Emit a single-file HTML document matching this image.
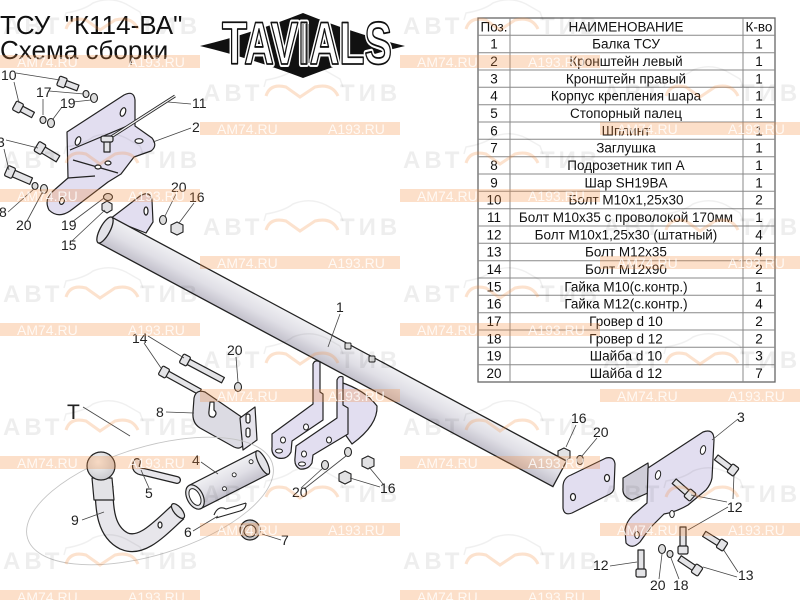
<!DOCTYPE html>
<html><head><meta charset="utf-8"><style>
html,body{margin:0;padding:0;background:#fff;}
svg{display:block;}
.lb{font-family:"Liberation Sans",Arial,sans-serif;font-size:14px;fill:#222;}
.ld{stroke:#444;stroke-width:0.8;fill:none;}
.tt{font-family:"Liberation Sans","Noto Sans CJK SC",sans-serif;font-size:13.5px;fill:#111;text-anchor:middle;}
.o{stroke:#222;stroke-width:1.2;stroke-linejoin:round;}
.lav{fill:#e2def0;}
.gry{fill:#e4e4e7;}
.wg{font-family:"Liberation Sans",sans-serif;font-weight:bold;font-size:24px;letter-spacing:4px;fill:rgba(0,0,0,0.065);}
.wt{font-family:"Liberation Sans",sans-serif;font-size:14px;fill:rgba(255,255,255,0.8);}
.wb{fill:rgba(245,140,60,0.28);}
.wo{fill:none;stroke:rgba(245,140,60,0.25);stroke-width:3;}
.car{fill:none;stroke:rgba(0,0,0,0.06);stroke-width:1.5;}
</style></head><body>
<svg width="800" height="600" viewBox="0 0 800 600" xmlns="http://www.w3.org/2000/svg">
<defs>
<linearGradient id="tg" x1="0" y1="0" x2="0" y2="1">
<stop offset="0" stop-color="#f0f0f3"/><stop offset="0.5" stop-color="#e0dfe6"/><stop offset="1" stop-color="#c2c0cb"/>
</linearGradient>
<radialGradient id="bg" cx="0.4" cy="0.35" r="0.7">
<stop offset="0" stop-color="#f8f8f8"/><stop offset="1" stop-color="#c8c8cc"/>
</radialGradient>
</defs>

<!-- Title -->
<text x="0" y="34" style="font-family:'Liberation Sans',sans-serif;font-size:26px;fill:#111" xml:space="preserve">ТСУ  "К114-ВА"</text>
<text x="0" y="59" style="font-family:'Liberation Sans',sans-serif;font-size:26px;fill:#111">Схема сборки</text>

<!-- Logo -->
<path d="M200,46 Q250,34 303,13 Q355,34 405,46 Q355,58 303,78 Q250,58 200,46 Z" fill="#111"/>
<text x="222" y="64" textLength="170" lengthAdjust="spacingAndGlyphs" style="font-family:'Liberation Sans',sans-serif;font-weight:bold;font-size:60px;fill:#fff;stroke:#fff;stroke-width:6;stroke-linejoin:round">TAVIALS</text>
<text x="222" y="64" textLength="170" lengthAdjust="spacingAndGlyphs" style="font-family:'Liberation Sans',sans-serif;font-weight:bold;font-size:60px;fill:#fff;stroke:#111;stroke-width:1.8;stroke-linejoin:round">TAVIALS</text>
<g stroke="#222" stroke-width="0.8"><line x1="303" y1="24" x2="303" y2="63"/><line x1="306" y1="24" x2="306" y2="63"/><line x1="309" y1="24" x2="309" y2="63"/></g>

<!-- Table -->
<g>
<rect x="478" y="18" width="297" height="364" fill="#fff" stroke="#666" stroke-width="1.3"/>
<g stroke="#888" stroke-width="1">
<line x1="510" y1="18" x2="510" y2="382"/><line x1="743" y1="18" x2="743" y2="382"/>
<line x1="478" y1="35.3" x2="775" y2="35.3"/><line x1="478" y1="52.7" x2="775" y2="52.7"/>
<line x1="478" y1="70" x2="775" y2="70"/><line x1="478" y1="87.3" x2="775" y2="87.3"/>
<line x1="478" y1="104.7" x2="775" y2="104.7"/><line x1="478" y1="122" x2="775" y2="122"/>
<line x1="478" y1="139.3" x2="775" y2="139.3"/><line x1="478" y1="156.7" x2="775" y2="156.7"/>
<line x1="478" y1="174" x2="775" y2="174"/><line x1="478" y1="191.3" x2="775" y2="191.3"/>
<line x1="478" y1="208.7" x2="775" y2="208.7"/><line x1="478" y1="226" x2="775" y2="226"/>
<line x1="478" y1="243.3" x2="775" y2="243.3"/><line x1="478" y1="260.7" x2="775" y2="260.7"/>
<line x1="478" y1="278" x2="775" y2="278"/><line x1="478" y1="295.3" x2="775" y2="295.3"/>
<line x1="478" y1="312.7" x2="775" y2="312.7"/><line x1="478" y1="330" x2="775" y2="330"/>
<line x1="478" y1="347.3" x2="775" y2="347.3"/><line x1="478" y1="364.7" x2="775" y2="364.7"/>
</g>
<text class="tt" x="494" y="31.3">Поз.</text><text class="tt" x="626" y="31.3">НАИМЕНОВАНИЕ</text><text class="tt" x="759" y="31.3">К-во</text>
<text class="tt" x="494" y="48.6">1</text><text class="tt" x="626" y="48.6">Балка ТСУ</text><text class="tt" x="759" y="48.6">1</text>
<text class="tt" x="494" y="66">2</text><text class="tt" x="626" y="66">Кронштейн левый</text><text class="tt" x="759" y="66">1</text>
<text class="tt" x="494" y="83.3">3</text><text class="tt" x="626" y="83.3">Кронштейн правый</text><text class="tt" x="759" y="83.3">1</text>
<text class="tt" x="494" y="100.6">4</text><text class="tt" x="626" y="100.6">Корпус крепления шара</text><text class="tt" x="759" y="100.6">1</text>
<text class="tt" x="494" y="118">5</text><text class="tt" x="626" y="118">Стопорный палец</text><text class="tt" x="759" y="118">1</text>
<text class="tt" x="494" y="135.3">6</text><text class="tt" x="626" y="135.3">Шплинт</text><text class="tt" x="759" y="135.3">1</text>
<text class="tt" x="494" y="152.6">7</text><text class="tt" x="626" y="152.6">Заглушка</text><text class="tt" x="759" y="152.6">1</text>
<text class="tt" x="494" y="170">8</text><text class="tt" x="626" y="170">Подрозетник тип А</text><text class="tt" x="759" y="170">1</text>
<text class="tt" x="494" y="187.3">9</text><text class="tt" x="626" y="187.3">Шар SH19BA</text><text class="tt" x="759" y="187.3">1</text>
<text class="tt" x="494" y="204.6">10</text><text class="tt" x="626" y="204.6">Болт М10х1,25х30</text><text class="tt" x="759" y="204.6">2</text>
<text class="tt" x="494" y="222">11</text><text class="tt" x="626" y="222">Болт М10х35 с проволокой 170мм</text><text class="tt" x="759" y="222">1</text>
<text class="tt" x="494" y="239.3">12</text><text class="tt" x="626" y="239.3">Болт М10х1,25х30 (штатный)</text><text class="tt" x="759" y="239.3">4</text>
<text class="tt" x="494" y="256.6">13</text><text class="tt" x="626" y="256.6">Болт М12х35</text><text class="tt" x="759" y="256.6">4</text>
<text class="tt" x="494" y="274">14</text><text class="tt" x="626" y="274">Болт М12х90</text><text class="tt" x="759" y="274">2</text>
<text class="tt" x="494" y="291.3">15</text><text class="tt" x="626" y="291.3">Гайка М10(с.контр.)</text><text class="tt" x="759" y="291.3">1</text>
<text class="tt" x="494" y="308.6">16</text><text class="tt" x="626" y="308.6">Гайка М12(с.контр.)</text><text class="tt" x="759" y="308.6">4</text>
<text class="tt" x="494" y="326">17</text><text class="tt" x="626" y="326">Гровер d 10</text><text class="tt" x="759" y="326">2</text>
<text class="tt" x="494" y="343.3">18</text><text class="tt" x="626" y="343.3">Гровер d 12</text><text class="tt" x="759" y="343.3">2</text>
<text class="tt" x="494" y="360.6">19</text><text class="tt" x="626" y="360.6">Шайба d 10</text><text class="tt" x="759" y="360.6">3</text>
<text class="tt" x="494" y="378">20</text><text class="tt" x="626" y="378">Шайба d 12</text><text class="tt" x="759" y="378">7</text>
</g>

<!-- Bracket 2 (left) -->
<path class="o lav" d="M67,132 L124,95 Q134,90 135,100 L135,126 L152,138 Q158,146 151,151 L134,157 L121,174 L108,182 L70,211 Q58,219 49,210 Q44,200 52,192 L68,178 Z"/>
<path class="o" fill="none" d="M70,150 L132,124 M73,160 L118,173 M68,178 L95,176"/>
<ellipse class="o" fill="#fff" cx="78" cy="141" rx="2.5" ry="4.5" transform="rotate(20 78 141)"/>
<ellipse class="o" fill="#fff" cx="123" cy="112" rx="2.5" ry="4.5" transform="rotate(20 123 112)"/>
<ellipse class="o" fill="#fff" cx="139" cy="141" rx="4" ry="2.3"/>
<ellipse class="o" fill="#fff" cx="98" cy="167" rx="3" ry="2"/>
<ellipse class="o" fill="#fff" cx="108" cy="163" rx="3" ry="2"/>
<ellipse class="o" fill="#fff" cx="62" cy="201" rx="2.3" ry="3.5" transform="rotate(20 62 201)"/>
<!-- wire 11 + bolt -->
<line x1="175" y1="96" x2="108" y2="139" stroke="#222" stroke-width="3"/>
<line x1="175" y1="96" x2="108" y2="139" stroke="#f0f0f0" stroke-width="1.3"/>
<rect class="o gry" x="104" y="141" width="6" height="11"/>
<rect class="o gry" x="101" y="136" width="12" height="6" rx="2"/>

<!-- small bolts -->
<g transform="translate(62,82) rotate(20.6)"><rect class="o gry" x="3" y="-3" width="14" height="6"/><rect class="o gry" x="-4" y="-5" width="8" height="10" rx="1.5"/></g>
<g transform="translate(18,107) rotate(28)"><rect class="o gry" x="3" y="-3" width="14" height="6"/><rect class="o gry" x="-4" y="-5" width="8" height="10" rx="1.5"/></g>
<g transform="translate(40,148) rotate(31)"><rect class="o gry" x="3" y="-3.5" width="18" height="7"/><rect class="o gry" x="-4" y="-5.5" width="8" height="11" rx="1.5"/></g>
<g transform="translate(10,172) rotate(23.5)"><rect class="o gry" x="3" y="-3.5" width="20" height="7"/><rect class="o gry" x="-4" y="-5.5" width="8" height="11" rx="1.5"/></g>
<!-- washers -->
<g fill="#ddd" stroke="#222" stroke-width="1.1">
<ellipse cx="86" cy="94" rx="3" ry="3.5"/><ellipse cx="94" cy="98" rx="3.5" ry="4.5"/>
<ellipse cx="43" cy="120" rx="3" ry="3.5"/><ellipse cx="51" cy="123" rx="3.5" ry="4.5"/>
<ellipse cx="35" cy="186" rx="3" ry="3.5"/><ellipse cx="44" cy="189" rx="3.5" ry="4.5"/>
<ellipse cx="108" cy="197" rx="4.5" ry="3.5"/>
<ellipse cx="163" cy="220" rx="3.5" ry="4.5"/>
<ellipse cx="238" cy="387" rx="3.5" ry="4.5"/>
<ellipse cx="325" cy="465" rx="3.5" ry="4.5"/><ellipse cx="348" cy="452" rx="3.5" ry="4.5"/>
<ellipse cx="580" cy="460" rx="3.5" ry="4.5"/>
<ellipse cx="662" cy="549" rx="3.5" ry="4.5"/><ellipse cx="670" cy="554" rx="3" ry="3.5"/>
</g>
<!-- nuts -->
<g fill="#e2e2e4" stroke="#222" stroke-width="1.1">
<polygon points="107,201 112,204 112,210 107,213 102,210 102,204"/>
<polygon points="177,222 183,225 183,232 177,235 171,232 171,225"/>
<polygon points="345,471 351,474 351,481 345,484 339,481 339,474"/>
<polygon points="368,456 374,459 374,466 368,469 362,466 362,459"/>
<polygon points="564,448 570,451 570,458 564,461 558,458 558,451"/>
</g>

<!-- Left tube plate -->
<path class="o lav" d="M110,219 L140,196 Q150,190 152,200 L153,222 L146,233 Z"/>
<ellipse class="o" fill="#fff" cx="146" cy="211" rx="2" ry="4"/>

<!-- Main tube -->
<g transform="translate(105,230) rotate(28.2)">
<rect x="0" y="-14.5" width="516" height="29" fill="url(#tg)" stroke="#222" stroke-width="1.3"/>
<ellipse cx="0" cy="0" rx="5" ry="14.5" fill="#e4e3e8" stroke="#222" stroke-width="1.3"/>
</g>
<!-- bolts on tube top -->
<g fill="#ddd" stroke="#222" stroke-width="1">
<rect x="345" y="343" width="6" height="6" rx="1"/><rect x="369" y="356" width="6" height="6" rx="1"/>
</g>

<!-- Middle brackets (part of 1) -->
<path class="o lav" d="M340,382 Q365,390 377,406 Q378,425 352,444 L342,430 Z"/>
<path class="o lav" d="M313,364 Q315,359 320,362 L320,392 L323,394 L323,420 L292,441 L291,452 Q287,460 278,458 Q271,455 272,447 L272,434 L313,404 Z"/>
<path class="o lav" d="M337,380 Q339,375 343,377 L343,405 L348,408 L348,434 L313,455 L312,463 Q308,470 300,469 Q294,466 295,458 L296,446 L337,418 Z"/>
<g fill="#fff" stroke="#222" stroke-width="1">
<ellipse cx="283" cy="440" rx="2.5" ry="3"/><ellipse cx="279" cy="451" rx="3.5" ry="2"/><ellipse cx="306" cy="427" rx="2.5" ry="3"/>
<ellipse cx="304" cy="454" rx="2.5" ry="3"/><ellipse cx="302" cy="464" rx="3.5" ry="2"/><ellipse cx="329" cy="440" rx="2.5" ry="3"/>
</g>

<!-- Right end plate of tube -->
<path class="o lav" d="M563,487 Q563,478 571,475 L606,458 Q614,456 615,464 L614,489 Q613,493 608,495 L572,513 Q564,516 563,508 Z"/>
<ellipse class="o" fill="#fff" cx="607" cy="478" rx="2.5" ry="3.5"/>
<ellipse class="o" fill="#fff" cx="573" cy="497" rx="2.5" ry="3.5"/>

<!-- Bracket 3 (right) -->
<path class="o" fill="#cfcdd8" d="M623,478 L648,463 L650,492 L632,500 Q622,497 623,488 Z"/>
<path class="o lav" d="M648,468 L703,432 Q714,428 714,440 L712,478 Q711,484 706,490 L688,505 Q676,512 664,514 L650,528 L640,542 Q632,550 626,543 L625,530 Q626,522 633,515 L647,503 Z"/>
<g fill="#fff" stroke="#222" stroke-width="1">
<ellipse cx="703" cy="450" rx="2.5" ry="4.5" transform="rotate(15 703 450)"/>
<ellipse cx="658" cy="475" rx="2.5" ry="4.5" transform="rotate(15 658 475)"/>
<ellipse cx="672" cy="514" rx="2.3" ry="3.5"/>
<ellipse cx="637" cy="535" rx="2.3" ry="3.5"/>
</g>
<g transform="translate(690,495) rotate(221)"><rect class="o gry" x="3" y="-3" width="18" height="6"/><rect class="o gry" x="-4" y="-5" width="8" height="10" rx="1.5"/></g>
<g transform="translate(733,470) rotate(217)"><rect class="o gry" x="3" y="-3" width="18" height="6"/><rect class="o gry" x="-4" y="-5" width="8" height="10" rx="1.5"/></g>
<g transform="translate(683,550) rotate(-90)"><rect class="o gry" x="3" y="-3" width="20" height="6"/><rect class="o gry" x="-4" y="-5" width="8" height="10" rx="1.5"/></g>
<g transform="translate(641,573) rotate(-90)"><rect class="o gry" x="3" y="-3" width="20" height="6"/><rect class="o gry" x="-4" y="-5" width="8" height="10" rx="1.5"/></g>
<g transform="translate(722,545) rotate(212)"><rect class="o gry" x="3" y="-3" width="18" height="6"/><rect class="o gry" x="-4" y="-5" width="8" height="10" rx="1.5"/></g>
<g transform="translate(697,570) rotate(214)"><rect class="o gry" x="3" y="-3" width="18" height="6"/><rect class="o gry" x="-4" y="-5" width="8" height="10" rx="1.5"/></g>

<!-- Bolts 14 -->
<g transform="translate(185,360) rotate(28)"><rect class="o gry" x="3" y="-3" width="40" height="6"/><rect class="o gry" x="-4" y="-5" width="8" height="10" rx="1.5"/></g>
<g transform="translate(164,372) rotate(29)"><rect class="o gry" x="3" y="-3" width="38" height="6"/><rect class="o gry" x="-4" y="-5" width="8" height="10" rx="1.5"/></g>

<!-- Bracket 8 -->
<path class="o" fill="#dcdbe3" d="M194,398 Q196,389 205,392 L243,418 L243,445 Q240,450 234,447 L200,428 Q192,423 193,412 Z"/>
<path class="o" fill="#e6e4ec" d="M240,418 L255,407 L257,440 L243,450 Z"/>
<path class="o" fill="#fff" d="M210,402 L214,402 L214,410 Q218,413 214,417 Q208,418 209,411 Z"/>
<rect class="o" fill="#fff" x="246" y="414" width="4" height="9" rx="2"/>
<rect class="o" fill="#fff" x="246" y="428" width="4" height="9" rx="2"/>

<!-- Ellipse T -->
<ellipse cx="150" cy="501" rx="128" ry="54" transform="rotate(-17 150 501)" fill="none" stroke="#c4c4c4" stroke-width="0.9"/>

<!-- Hitch ball 9 -->
<path d="M104,486 C104,510 106,532 124,541 C142,549 160,528 178,512" fill="none" stroke="#222" stroke-width="19"/>
<path d="M104,486 C104,510 106,532 124,541 C142,549 160,528 178,512" fill="none" stroke="#e7e6eb" stroke-width="16.5"/>
<ellipse class="o" fill="#e0e0e4" cx="178" cy="511" rx="4" ry="9" transform="rotate(-40 178 511)"/>
<ellipse class="o" fill="#fff" cx="160" cy="525" rx="2" ry="3"/>
<path class="o" fill="#e3e3e6" d="M92,478 L112,478 L114,500 L94,500 Z"/>
<circle class="o" cx="101" cy="466" r="14" fill="url(#bg)"/>

<!-- Pin 5 -->
<path d="M137,462 Q133,471 144,472 L177,480" fill="none" stroke="#222" stroke-width="8" stroke-linecap="round"/>
<path d="M137,462 Q133,471 144,472 L177,480" fill="none" stroke="#e7e6eb" stroke-width="5.5" stroke-linecap="round"/>

<!-- Part 4 -->
<g transform="translate(195,497) rotate(-27)">
<rect x="0" y="-13" width="76" height="26" fill="url(#tg)" stroke="#222" stroke-width="1.2"/>
<ellipse cx="76" cy="0" rx="4" ry="13" fill="#e4e4e8" stroke="#222" stroke-width="1.2"/>
<ellipse cx="0" cy="0" rx="8" ry="13" fill="#e8e8ec" stroke="#222" stroke-width="1.2"/>
<ellipse cx="0" cy="0" rx="5" ry="9" fill="#fff" stroke="#222" stroke-width="1"/>
<circle cx="45" cy="-2" r="2" fill="#fff" stroke="#222" stroke-width="0.9"/>
<circle cx="66" cy="-6" r="2" fill="#fff" stroke="#222" stroke-width="0.9"/>
<circle cx="30" cy="6" r="2" fill="#fff" stroke="#222" stroke-width="0.9"/>
</g>

<!-- Split pin 6 -->
<path d="M214,515 Q218,505 226,509 L246,503 M216,518 L240,511 Q246,509 246,503" fill="none" stroke="#222" stroke-width="1.1"/>
<!-- Ring 7 -->
<circle cx="250" cy="530" r="10" fill="#c9c9cc" stroke="#222" stroke-width="1.2"/>
<circle cx="250" cy="531" r="6" fill="#eee" stroke="#222" stroke-width="1"/>

<!-- Leaders -->
<g class="ld">
<path d="M16,73 L60,80 M14,82 L19,103"/>
<path d="M49,91 L84,94 M43,99 L43,115"/>
<path d="M73,102 L91,100 M62,107 L53,119"/>
<path d="M191,104 L168,102"/>
<path d="M191,128 L153,142"/>
<path d="M6,140 L38,148 M4,149 L9,170"/>
<path d="M8,212 L34,189"/>
<path d="M27,221 L42,193"/>
<path d="M72,222 L104,198"/>
<path d="M72,241 L105,210"/>
<path d="M176,194 L165,216"/>
<path d="M194,203 L179,223"/>
<path d="M340,314 L328,347"/>
<path d="M148,336 L184,358 M144,343 L161,368"/>
<path d="M236,357 L238,382"/>
<path d="M166,412 L194,413"/>
<path d="M83,407 L130,436"/>
<path d="M201,462 L218,474"/>
<path d="M149,488 L141,470"/>
<path d="M82,520 L104,512"/>
<path d="M193,531 L218,516"/>
<path d="M281,540 L262,534"/>
<path d="M301,488 L323,468 M304,489 L346,456"/>
<path d="M380,487 L350,478 M383,484 L369,467"/>
<path d="M576,425 L566,447"/>
<path d="M597,438 L582,456"/>
<path d="M738,419 L712,440"/>
<path d="M727,502 L691,495 M733,499 L734,474 M728,507 L688,530"/>
<path d="M610,566 L637,562"/>
<path d="M659,579 L662,554"/>
<path d="M679,579 L671,558"/>
<path d="M738,572 L723,549 M737,577 L703,567"/>
</g>

<!-- Labels -->
<g class="lb">
<text x="1" y="80">10</text>
<text x="36" y="97">17</text>
<text x="60" y="108">19</text>
<text x="192" y="108">11</text>
<text x="192" y="132">2</text>
<text x="-3" y="147">3</text>
<text x="-1" y="217">8</text>
<text x="16" y="230">20</text>
<text x="61" y="230">19</text>
<text x="61" y="250">15</text>
<text x="171" y="192">20</text>
<text x="189" y="202">16</text>
<text x="336" y="312">1</text>
<text x="132" y="343">14</text>
<text x="227" y="355">20</text>
<text x="156" y="417">8</text>
<text x="67" y="419" style="font-size:21px">T</text>
<text x="192" y="465">4</text>
<text x="145" y="498">5</text>
<text x="71" y="525">9</text>
<text x="184" y="537">6</text>
<text x="281" y="545">7</text>
<text x="292" y="497">20</text>
<text x="380" y="493">16</text>
<text x="571" y="423">16</text>
<text x="593" y="437">20</text>
<text x="737" y="422">3</text>
<text x="727" y="512">12</text>
<text x="593" y="570">12</text>
<text x="650" y="590">20</text>
<text x="673" y="590">18</text>
<text x="738" y="580">13</text>
</g>

<!-- Watermark tiles -->
<g>
<g transform="translate(0,26)"><path class="car" d="M64,-6 L66,-13 Q84,-16 93,-23 Q110,-30 126,-22 L140,-14 L143,-6"/><text class="wg" x="3" y="8">АВТ</text><path class="wo" d="M66,3 Q70,-10 86,-6 L100,4 L115,-6 Q132,-10 138,3"/><text class="wg" x="140" y="8">ТИВ</text><rect class="wb" x="0" y="29" width="200" height="13"/><text class="wt" x="17" y="41">AM74.RU</text><text class="wt" x="128" y="41">A193.RU</text></g>
<g transform="translate(400,26)"><path class="car" d="M64,-6 L66,-13 Q84,-16 93,-23 Q110,-30 126,-22 L140,-14 L143,-6"/><text class="wg" x="3" y="8">АВТ</text><path class="wo" d="M66,3 Q70,-10 86,-6 L100,4 L115,-6 Q132,-10 138,3"/><text class="wg" x="140" y="8">ТИВ</text><rect class="wb" x="0" y="29" width="200" height="13"/><text class="wt" x="17" y="41">AM74.RU</text><text class="wt" x="128" y="41">A193.RU</text></g>
<g transform="translate(200,93)"><path class="car" d="M64,-6 L66,-13 Q84,-16 93,-23 Q110,-30 126,-22 L140,-14 L143,-6"/><text class="wg" x="3" y="8">АВТ</text><path class="wo" d="M66,3 Q70,-10 86,-6 L100,4 L115,-6 Q132,-10 138,3"/><text class="wg" x="140" y="8">ТИВ</text><rect class="wb" x="0" y="29" width="200" height="13"/><text class="wt" x="17" y="41">AM74.RU</text><text class="wt" x="128" y="41">A193.RU</text></g>
<g transform="translate(600,93)"><path class="car" d="M64,-6 L66,-13 Q84,-16 93,-23 Q110,-30 126,-22 L140,-14 L143,-6"/><text class="wg" x="3" y="8">АВТ</text><path class="wo" d="M66,3 Q70,-10 86,-6 L100,4 L115,-6 Q132,-10 138,3"/><text class="wg" x="140" y="8">ТИВ</text><rect class="wb" x="0" y="29" width="200" height="13"/><text class="wt" x="17" y="41">AM74.RU</text><text class="wt" x="128" y="41">A193.RU</text></g>
<g transform="translate(0,160)"><path class="car" d="M64,-6 L66,-13 Q84,-16 93,-23 Q110,-30 126,-22 L140,-14 L143,-6"/><text class="wg" x="3" y="8">АВТ</text><path class="wo" d="M66,3 Q70,-10 86,-6 L100,4 L115,-6 Q132,-10 138,3"/><text class="wg" x="140" y="8">ТИВ</text><rect class="wb" x="0" y="29" width="200" height="13"/><text class="wt" x="17" y="41">AM74.RU</text><text class="wt" x="128" y="41">A193.RU</text></g>
<g transform="translate(400,160)"><path class="car" d="M64,-6 L66,-13 Q84,-16 93,-23 Q110,-30 126,-22 L140,-14 L143,-6"/><text class="wg" x="3" y="8">АВТ</text><path class="wo" d="M66,3 Q70,-10 86,-6 L100,4 L115,-6 Q132,-10 138,3"/><text class="wg" x="140" y="8">ТИВ</text><rect class="wb" x="0" y="29" width="200" height="13"/><text class="wt" x="17" y="41">AM74.RU</text><text class="wt" x="128" y="41">A193.RU</text></g>
<g transform="translate(200,227)"><path class="car" d="M64,-6 L66,-13 Q84,-16 93,-23 Q110,-30 126,-22 L140,-14 L143,-6"/><text class="wg" x="3" y="8">АВТ</text><path class="wo" d="M66,3 Q70,-10 86,-6 L100,4 L115,-6 Q132,-10 138,3"/><text class="wg" x="140" y="8">ТИВ</text><rect class="wb" x="0" y="29" width="200" height="13"/><text class="wt" x="17" y="41">AM74.RU</text><text class="wt" x="128" y="41">A193.RU</text></g>
<g transform="translate(600,227)"><path class="car" d="M64,-6 L66,-13 Q84,-16 93,-23 Q110,-30 126,-22 L140,-14 L143,-6"/><text class="wg" x="3" y="8">АВТ</text><path class="wo" d="M66,3 Q70,-10 86,-6 L100,4 L115,-6 Q132,-10 138,3"/><text class="wg" x="140" y="8">ТИВ</text><rect class="wb" x="0" y="29" width="200" height="13"/><text class="wt" x="17" y="41">AM74.RU</text><text class="wt" x="128" y="41">A193.RU</text></g>
<g transform="translate(0,294)"><path class="car" d="M64,-6 L66,-13 Q84,-16 93,-23 Q110,-30 126,-22 L140,-14 L143,-6"/><text class="wg" x="3" y="8">АВТ</text><path class="wo" d="M66,3 Q70,-10 86,-6 L100,4 L115,-6 Q132,-10 138,3"/><text class="wg" x="140" y="8">ТИВ</text><rect class="wb" x="0" y="29" width="200" height="13"/><text class="wt" x="17" y="41">AM74.RU</text><text class="wt" x="128" y="41">A193.RU</text></g>
<g transform="translate(400,294)"><path class="car" d="M64,-6 L66,-13 Q84,-16 93,-23 Q110,-30 126,-22 L140,-14 L143,-6"/><text class="wg" x="3" y="8">АВТ</text><path class="wo" d="M66,3 Q70,-10 86,-6 L100,4 L115,-6 Q132,-10 138,3"/><text class="wg" x="140" y="8">ТИВ</text><rect class="wb" x="0" y="29" width="200" height="13"/><text class="wt" x="17" y="41">AM74.RU</text><text class="wt" x="128" y="41">A193.RU</text></g>
<g transform="translate(200,360)"><path class="car" d="M64,-6 L66,-13 Q84,-16 93,-23 Q110,-30 126,-22 L140,-14 L143,-6"/><text class="wg" x="3" y="8">АВТ</text><path class="wo" d="M66,3 Q70,-10 86,-6 L100,4 L115,-6 Q132,-10 138,3"/><text class="wg" x="140" y="8">ТИВ</text><rect class="wb" x="0" y="29" width="200" height="13"/><text class="wt" x="17" y="41">AM74.RU</text><text class="wt" x="128" y="41">A193.RU</text></g>
<g transform="translate(600,360)"><path class="car" d="M64,-6 L66,-13 Q84,-16 93,-23 Q110,-30 126,-22 L140,-14 L143,-6"/><text class="wg" x="3" y="8">АВТ</text><path class="wo" d="M66,3 Q70,-10 86,-6 L100,4 L115,-6 Q132,-10 138,3"/><text class="wg" x="140" y="8">ТИВ</text><rect class="wb" x="0" y="29" width="200" height="13"/><text class="wt" x="17" y="41">AM74.RU</text><text class="wt" x="128" y="41">A193.RU</text></g>
<g transform="translate(0,427)"><path class="car" d="M64,-6 L66,-13 Q84,-16 93,-23 Q110,-30 126,-22 L140,-14 L143,-6"/><text class="wg" x="3" y="8">АВТ</text><path class="wo" d="M66,3 Q70,-10 86,-6 L100,4 L115,-6 Q132,-10 138,3"/><text class="wg" x="140" y="8">ТИВ</text><rect class="wb" x="0" y="29" width="200" height="13"/><text class="wt" x="17" y="41">AM74.RU</text><text class="wt" x="128" y="41">A193.RU</text></g>
<g transform="translate(400,427)"><path class="car" d="M64,-6 L66,-13 Q84,-16 93,-23 Q110,-30 126,-22 L140,-14 L143,-6"/><text class="wg" x="3" y="8">АВТ</text><path class="wo" d="M66,3 Q70,-10 86,-6 L100,4 L115,-6 Q132,-10 138,3"/><text class="wg" x="140" y="8">ТИВ</text><rect class="wb" x="0" y="29" width="200" height="13"/><text class="wt" x="17" y="41">AM74.RU</text><text class="wt" x="128" y="41">A193.RU</text></g>
<g transform="translate(200,494)"><path class="car" d="M64,-6 L66,-13 Q84,-16 93,-23 Q110,-30 126,-22 L140,-14 L143,-6"/><text class="wg" x="3" y="8">АВТ</text><path class="wo" d="M66,3 Q70,-10 86,-6 L100,4 L115,-6 Q132,-10 138,3"/><text class="wg" x="140" y="8">ТИВ</text><rect class="wb" x="0" y="29" width="200" height="13"/><text class="wt" x="17" y="41">AM74.RU</text><text class="wt" x="128" y="41">A193.RU</text></g>
<g transform="translate(600,494)"><path class="car" d="M64,-6 L66,-13 Q84,-16 93,-23 Q110,-30 126,-22 L140,-14 L143,-6"/><text class="wg" x="3" y="8">АВТ</text><path class="wo" d="M66,3 Q70,-10 86,-6 L100,4 L115,-6 Q132,-10 138,3"/><text class="wg" x="140" y="8">ТИВ</text><rect class="wb" x="0" y="29" width="200" height="13"/><text class="wt" x="17" y="41">AM74.RU</text><text class="wt" x="128" y="41">A193.RU</text></g>
<g transform="translate(0,561)"><path class="car" d="M64,-6 L66,-13 Q84,-16 93,-23 Q110,-30 126,-22 L140,-14 L143,-6"/><text class="wg" x="3" y="8">АВТ</text><path class="wo" d="M66,3 Q70,-10 86,-6 L100,4 L115,-6 Q132,-10 138,3"/><text class="wg" x="140" y="8">ТИВ</text><rect class="wb" x="0" y="29" width="200" height="13"/><text class="wt" x="17" y="41">AM74.RU</text><text class="wt" x="128" y="41">A193.RU</text></g>
<g transform="translate(400,561)"><path class="car" d="M64,-6 L66,-13 Q84,-16 93,-23 Q110,-30 126,-22 L140,-14 L143,-6"/><text class="wg" x="3" y="8">АВТ</text><path class="wo" d="M66,3 Q70,-10 86,-6 L100,4 L115,-6 Q132,-10 138,3"/><text class="wg" x="140" y="8">ТИВ</text><rect class="wb" x="0" y="29" width="200" height="13"/><text class="wt" x="17" y="41">AM74.RU</text><text class="wt" x="128" y="41">A193.RU</text></g>
</g>
</svg>
</body></html>
